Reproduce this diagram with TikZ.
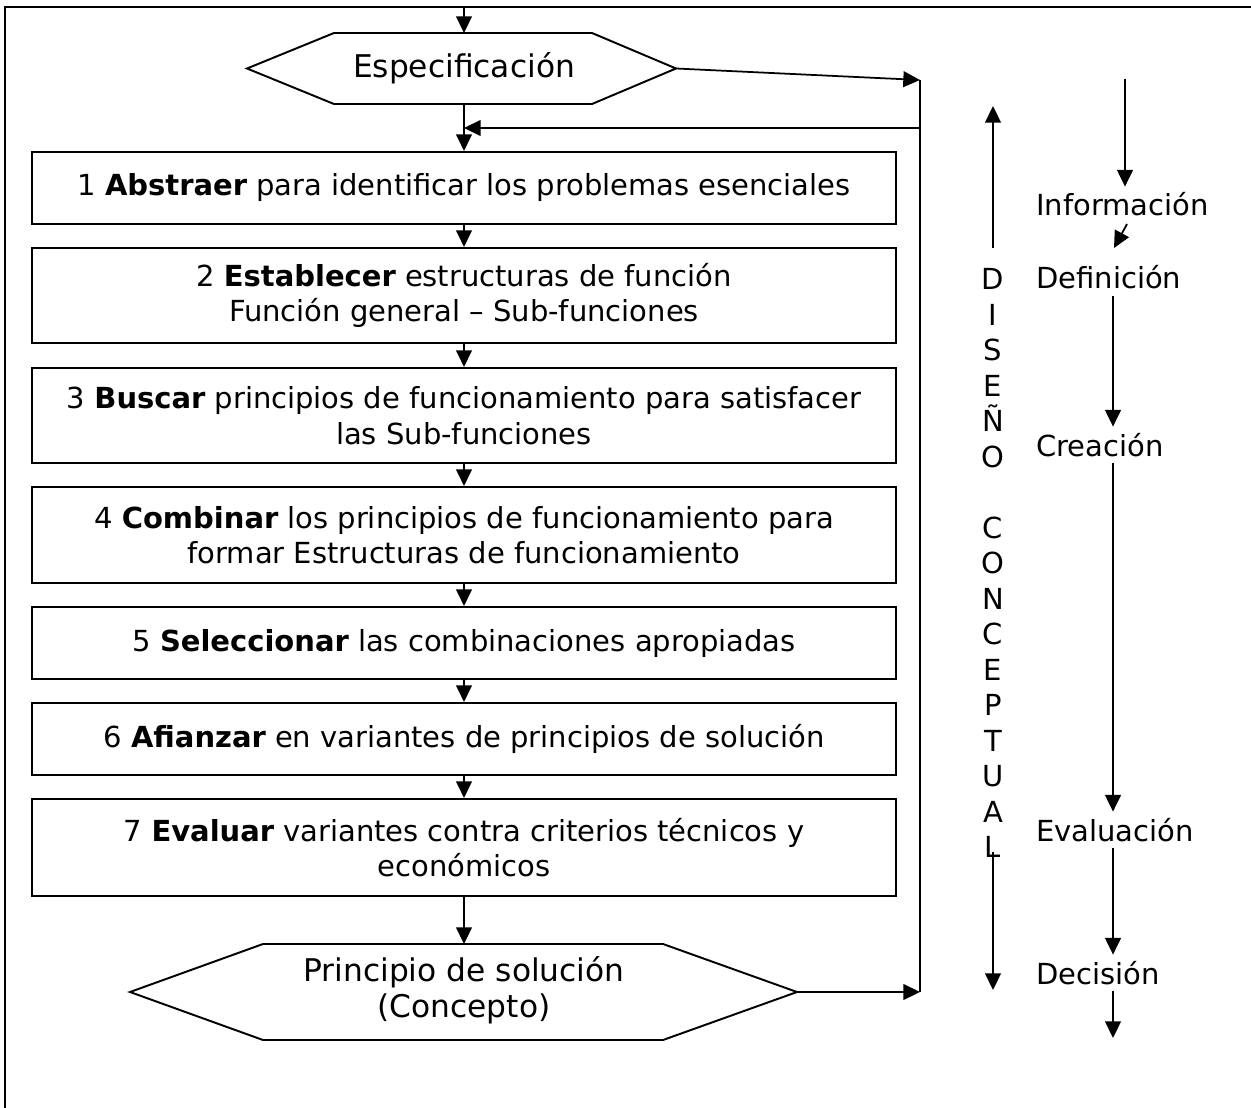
\documentclass[tikz,border=0pt]{standalone}
\usepackage{fontspec}
\setmainfont{DejaVu Sans}
\usetikzlibrary{arrows.meta}

\begin{document}
\begin{tikzpicture}[x=0.02cm, y=-0.02cm,
        font=\fontsize{16.5}{20.2}\selectfont,
        flecha/.style={-{Triangle[length=9.5pt,width=9pt]}, line width=1pt},
        paso/.style={draw, line width=1.2pt, minimum width=17.28cm, align=center, inner sep=0pt},
        grande/.style={font=\fontsize{17.8}{20.5}\selectfont, align=center}]
        \useasboundingbox (0,0) rectangle (1251,1108);

        % Marco
        \draw[line width=1.2pt] (5,1108) -- (5,7) -- (1251,7);

        % Especificacion
        \coordinate (Entrada) at (464,7);
        \coordinate (EspN) at (464,33);
        \coordinate (EspS) at (464,104);
        \coordinate (EspW) at (247,68.5);
        \coordinate (EspE) at (676,68.5);
        \draw[line width=1.1pt] (EspW) -- (334,33) -- (592,33) -- (EspE) -- (592,104) -- (334,104) -- cycle;
        \node[grande] (Esp) at (464,68.5) {Especificación};

        % Pasos
        \begin{scope}[every node/.style={paso}]
            \node[minimum height=1.44cm] (P1) at (464,188) {1 \textbf{Abstraer} para identificar los problemas esenciales};
            \node[minimum height=1.9cm] (P2) at (464,295.5) {2 \textbf{Establecer} estructuras de función\\ Función general – Sub-funciones};
            \node[minimum height=1.9cm] (P3) at (464,415.5) {3 \textbf{Buscar} principios de funcionamiento para satisfacer\\ las Sub-funciones};
            \node[minimum height=1.92cm] (P4) at (464,535) {4 \textbf{Combinar} los principios de funcionamiento para\\ formar Estructuras de funcionamiento};
            \node[minimum height=1.44cm] (P5) at (464,643) {5 \textbf{Seleccionar} las combinaciones apropiadas};
            \node[minimum height=1.44cm] (P6) at (464,739) {6 \textbf{Afianzar} en variantes de principios de solución};
            \node[minimum height=1.94cm] (P7) at (464,847.5) {7 \textbf{Evaluar} variantes contra criterios técnicos y\\ económicos};
        \end{scope}

        % Principio de solucion
        \coordinate (SolN) at (464,944);
        \coordinate (SolW) at (130,992);
        \coordinate (SolE) at (797,992);
        \draw[line width=1.1pt] (SolW) -- (263,944) -- (663,944) -- (SolE) -- (663,1040) -- (263,1040) -- cycle;
        \node[grande] (Sol) at (464,990) {Principio de solución\\ (Concepto)};

        % Flujo
        \coordinate (Retorno) at (464,128);
        \draw[flecha] (Entrada) -- (EspN);
        \draw[flecha] (EspS) -- (EspS |- P1.north);
        \draw[flecha] (P1) -- (P2);
        \draw[flecha] (P2) -- (P3);
        \draw[flecha] (P3) -- (P4);
        \draw[flecha] (P4) -- (P5);
        \draw[flecha] (P5) -- (P6);
        \draw[flecha] (P6) -- (P7);
        \draw[flecha] (P7) -- (SolN);

        % Realimentacion
        \coordinate (RA) at (920,80);
        \coordinate (RB) at (920,128);
        \coordinate (RC) at (920,992);
        \draw[flecha] (EspE) -- (RA);
        \draw[line width=1pt] (RA) -- (RC);
        \draw[flecha] (RB) -- (Retorno);
        \draw[flecha] (SolE) -- (RC);

        % Diseno conceptual
        \coordinate (SubeA) at (993,248);
        \coordinate (SubeB) at (993,106);
        \coordinate (BajaA) at (993,852);
        \coordinate (BajaB) at (993,990);
        \node[align=center] (Dis) at (993,563) {D\\I\\S\\E\\Ñ\\O\\[20.2pt]C\\O\\N\\C\\E\\P\\T\\U\\A\\L};
        \draw[flecha] (SubeA) -- (SubeB);
        \draw[flecha] (BajaA) -- (BajaB);

        % Etapas
        \node[anchor=base west] (Info) at (1030,216) {Información};
        \node[anchor=base west] (Def) at (1030,289) {Definición};
        \node[anchor=base west] (Crea) at (1030,456) {Creación};
        \node[anchor=base west] (Eval) at (1030,841) {Evaluación};
        \node[anchor=base west] (Dec) at (1030,984) {Decisión};

        \coordinate (InfoA) at (1125,79);
        \coordinate (InfoB) at (1127,224);
        \coordinate (InfoC) at (1114,248);
        \coordinate (Eje) at (1113,0);
        \coordinate (Salida) at (1113,1038);
        \draw[flecha] (InfoA) -- (Info.north -| InfoA);
        \draw[flecha] (InfoB) -- (InfoC);
        \draw[flecha] (Def.south -| Eje) -- (Crea.north -| Eje);
        \draw[flecha] (Crea.south -| Eje) -- (Eval.north -| Eje);
        \draw[flecha] (Eval.south -| Eje) -- (Dec.north -| Eje);
        \draw[flecha] (Dec.south -| Eje) -- (Salida);
    \end{tikzpicture}
\end{document}
